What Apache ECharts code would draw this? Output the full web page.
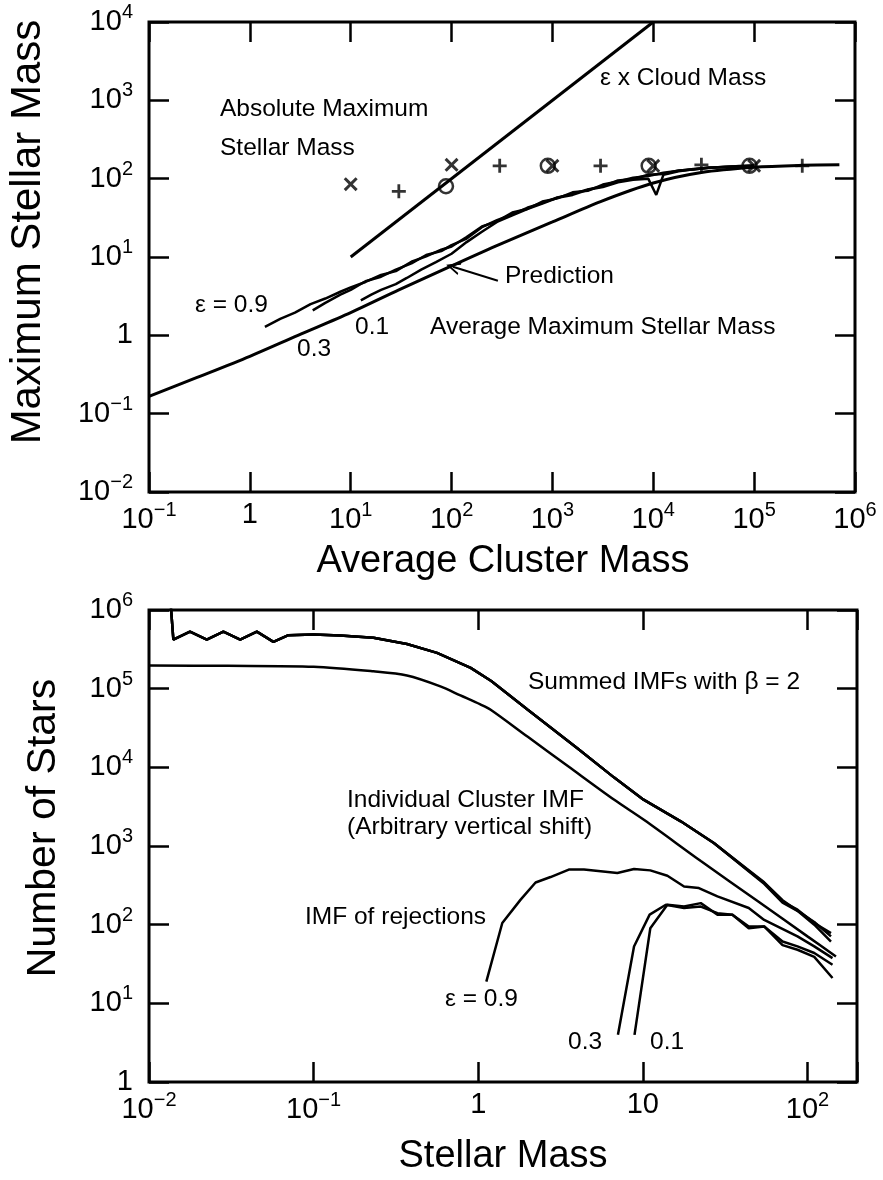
<!DOCTYPE html>
<html>
<head>
<meta charset="utf-8">
<title>Maximum Stellar Mass</title>
<script src="https://cdn.jsdelivr.net/npm/echarts@6/dist/echarts.min.js"></script>
<style>html,body{margin:0;padding:0;background:#fff}</style>
</head>
<body>
<div id="main" style="width:883px;height:1180px;"></div>
<script>
// ---- top panel: max stellar mass vs average cluster mass ----
var topXTicks = ['10^\u22121', '1', '10^1', '10^2', '10^3', '10^4', '10^5', '10^6']   // 1e-1 .. 1e6
var topYTicks = ['10^\u22122', '10^\u22121', '1', '10^1', '10^2', '10^3', '10^4']       // 1e-2 .. 1e4

var cloudX = [10, 10000]
var cloudY = [10, 10000]

var predX = [0.1, 0.3, 1, 3, 10, 30, 100, 300, 1000, 3000, 10000, 30000, 100000, 300000, 700000]
var predY = [0.166, 0.29, 0.54, 1.0, 1.95, 3.8, 7.7, 14.5, 28, 51, 88, 120, 140, 148, 150]

var sim09X = [1.41, 2.0, 2.8, 4.0, 5.6, 7.9, 10, 14, 20, 28, 40, 56, 79, 100, 141, 200, 282, 400, 562, 794, 1120, 1585, 2240, 3160, 4470, 6310, 8910, 12600, 17800, 25100, 35500, 50100, 70800, 100000]
var sim09Y = [1.28, 1.62, 1.95, 2.5, 2.95, 3.6, 4.1, 4.8, 5.9, 6.6, 8.7, 10.2, 12.4, 13.6, 18.0, 24.5, 28.5, 37, 41, 51, 56, 67, 70, 84, 92, 103, 108, 119, 126, 133, 138, 141, 143, 146]
var sim03X = [4.2, 5.6, 7.9, 10, 14, 20, 28, 40, 56, 79, 100, 141, 200, 282, 400, 562, 794, 1120, 1585, 2240, 3160, 4470, 6310, 8910, 12600, 17800, 25100, 35500, 50100, 70800, 100000]
var sim03Y = [2.08, 2.6, 3.3, 3.8, 4.9, 5.6, 6.9, 8.3, 10.6, 11.9, 14.2, 17.2, 24, 29.5, 35, 42.5, 49, 57.5, 64, 73, 80, 95, 99, 112, 115, 127, 131, 139, 140, 145, 146]
var sim01X = [12.6, 16, 20, 28, 36, 50, 70, 100, 141, 200, 282, 400, 562, 794, 1120, 1585, 2240, 3160, 4470, 6310, 8910, 10700, 12600, 17800, 25100, 35500, 50100, 70800, 100000]
var sim01Y = [2.79, 3.3, 3.8, 4.5, 5.4, 6.9, 8.6, 11, 15.5, 21, 28, 34, 41, 48, 57, 62, 72, 78, 90, 97, 100, 62, 112, 124, 132, 137, 142, 144, 147]

var crossX = [10, 100, 1000, 10000, 100000]
var crossY = [85, 150, 146, 146, 146]
var plusX = [30, 300, 3000, 30000, 300000]
var plusY = [69, 146, 146, 150, 146]
var circX = [88, 900, 9000, 90000]
var circY = [80, 146, 146, 146]

// ---- bottom panel: number of stars vs stellar mass ----
var botXTicks = ['10^\u22122', '10^\u22121', '1', '10', '10^2']          // 1e-2 .. 1e2
var botYTicks = ['1', '10^1', '10^2', '10^3', '10^4', '10^5', '10^6']     // 1 .. 1e6

var sumX = [0.0135, 0.01406, 0.01774, 0.02244, 0.0283, 0.0358, 0.0452, 0.057, 0.0703, 0.1, 0.145, 0.231, 0.369, 0.562, 0.9, 1.2, 2, 4, 6.7, 10.1, 17, 27, 43, 54.6, 70.6, 87, 110, 139]
var sum09Y = [1.3e6, 4.2e5, 5.3e5, 4.2e5, 5.3e5, 4.2e5, 5.3e5, 3.94e5, 4.78e5, 4.87e5, 4.74e5, 4.43e5, 3.7e5, 2.85e5, 1.84e5, 1.25e5, 5.4e4, 1.75e4, 7.4e3, 3.88e3, 2.06e3, 1.09e3, 502, 339, 197, 155, 105, 78]
var sum03Y = [1.3e6, 4.2e5, 5.3e5, 4.2e5, 5.3e5, 4.2e5, 5.3e5, 3.94e5, 4.78e5, 4.87e5, 4.74e5, 4.43e5, 3.7e5, 2.85e5, 1.84e5, 1.25e5, 5.4e4, 1.75e4, 7.4e3, 3.88e3, 2.06e3, 1.09e3, 510, 345, 205, 150, 108, 71]
var sum01Y = [1.3e6, 4.2e5, 5.3e5, 4.2e5, 5.3e5, 4.2e5, 5.3e5, 3.94e5, 4.78e5, 4.87e5, 4.74e5, 4.43e5, 3.7e5, 2.85e5, 1.84e5, 1.25e5, 5.4e4, 1.75e4, 7.4e3, 3.88e3, 2.06e3, 1.09e3, 495, 330, 190, 150, 100, 61]

var indX = [0.01, 0.03, 0.1, 0.231, 0.369, 0.589, 0.78, 1.03, 1.19, 2, 3.5, 6.67, 10.2, 22.5, 50, 100, 149]
var indY = [1.97e5, 1.95e5, 1.9e5, 1.66e5, 1.47e5, 1.07e5, 8.2e4, 6.3e4, 5.4e4, 2.44e4, 1.04e4, 3.9e3, 2.14e3, 645, 198, 71, 39.4]

var rej09X = [1.12, 1.4, 1.81, 2.23, 2.75, 3.55, 4.39, 7.0, 8.84, 11.1, 14.1, 17.8, 21.9, 28.4, 44, 54.6, 87, 110, 142]
var rej09Y = [18.9, 105, 208, 344, 403, 502, 502, 453, 509, 490, 419, 306, 292, 229, 163, 115, 71, 53, 37.6]
var rej03X = [7.06, 8.84, 11.0, 13.8, 17.8, 22.5, 28.4, 35, 44, 54.6, 70.6, 87, 110, 142]
var rej03Y = [3.98, 52.7, 134, 179, 163, 170, 140, 134, 90, 95, 55, 48, 39, 21]
var rej01X = [8.9, 11.1, 14.1, 17.8, 22.5, 28.4, 35, 44, 54.6, 70.6, 87, 110, 142]
var rej01Y = [3.98, 90, 179, 170, 188, 134, 134, 95, 95, 61, 53, 43.6, 31]

var FONT = '"Liberation Sans", Arial, Helvetica, sans-serif'
var chart = echarts.init(document.getElementById('main'))

var pts = function(xs, ys) {
    return xs.map(function(x, i) { return [x, ys[i]] })
}

// "10^3" -> rich text with superscript
var logLabel = function(labels, minExp) {
    return function(v) {
        var e = Math.log10(v)
        var r = Math.round(e)
        if (Math.abs(e - r) > 1e-6) return ''
        var s = labels[r - minExp]
        if (s == null) return ''
        var p = s.split('^')
        return p.length > 1 ? '{b|' + p[0] + '}{s|' + p[1] + '}' : '{b|' + s + '}'
    }
}
var rich = {
    b: {fontSize: 29, fontFamily: FONT, color: '#000'},
    s: {fontSize: 20, fontFamily: FONT, color: '#000', padding: [0, 0, 19, 0]}
}

var tick = {show: true, inside: true, length: 20, lineStyle: {color: '#000', width: 2.5}}

var makeAxis = function(grid, pos, min, max, labels, minExp, margin) {
    return {
        type: 'log', logBase: 10, gridIndex: grid, position: pos, min: min, max: max,
        axisLine: {show: false},
        axisTick: tick,
        minorTick: {show: false},
        splitLine: {show: false},
        axisLabel: labels ? {
            show: true, margin: margin, fontFamily: FONT, color: '#000',
            formatter: logLabel(labels, minExp), rich: rich
        } : {show: false}
    }
}

var line = function(name, xs, ys, xi, yi, w, smooth) {
    return {
        name: name, type: 'line', xAxisIndex: xi, yAxisIndex: yi,
        data: pts(xs, ys), showSymbol: false, symbol: 'none', smooth: smooth || false,
        lineStyle: {color: '#000', width: w || 2.5}, silent: true, animation: false
    }
}

var crossPath = 'path://M0,3 L3,0 L10,7 L17,0 L20,3 L13,10 L20,17 L17,20 L10,13 L3,20 L0,17 L7,10 Z'
var plusPath = 'path://M8,0 H12 V8 H20 V12 H12 V20 H8 V12 H0 V8 H8 Z'

var marker = function(name, xs, ys, sym, size, style) {
    return {
        name: name, type: 'scatter', xAxisIndex: 0, yAxisIndex: 0,
        data: pts(xs, ys), symbol: sym, symbolSize: size,
        itemStyle: style, silent: true, animation: false
    }
}

var text = function(str, x, y, size, rot) {
    return {
        type: 'text', x: x, y: y, rotation: rot || 0, silent: true,
        style: {
            text: str, font: size + 'px ' + FONT, fill: '#000',
            textAlign: rot ? 'center' : 'left', textVerticalAlign: 'middle'
        }
    }
}
var ctext = function(str, x, y, size) {
    var t = text(str, x, y, size)
    t.style.textAlign = 'center'
    return t
}

var prediction = line('Prediction', predX, predY, 0, 0, 3, 0.3)
prediction.markLine = {
    silent: true, animation: false,
    symbol: ['none', 'path://M0,10 L5,0 L10,10 L8.4,10 L5,3 L1.6,10 Z'],
    symbolSize: [13, 14],
    label: {show: false},
    lineStyle: {color: '#000', width: 2, type: 'solid'},
    data: [[{coord: [288, 4.97]}, {coord: [103, 7.5]}]]
}

var option = {
    backgroundColor: '#fff',
    animation: false,
    grid: [
        {left: 149, right: 28, top: 22, height: 470, show: true, borderColor: '#000', borderWidth: 3, backgroundColor: 'transparent', outerBoundsMode: 'none'},
        {left: 149, right: 26, top: 610, height: 472, show: true, borderColor: '#000', borderWidth: 3, backgroundColor: 'transparent', outerBoundsMode: 'none'}
    ],
    xAxis: [
        makeAxis(0, 'bottom', 0.1, 1e6, topXTicks, -1, 8),
        makeAxis(0, 'top', 0.1, 1e6, null),
        makeAxis(1, 'bottom', 0.01, 200, botXTicks, -2, 8),
        makeAxis(1, 'top', 0.01, 200, null)
    ],
    yAxis: [
        makeAxis(0, 'left', 0.01, 1e4, topYTicks, -2, 16),
        makeAxis(0, 'right', 0.01, 1e4, null),
        makeAxis(1, 'left', 1, 1e6, botYTicks, 0, 16),
        makeAxis(1, 'right', 1, 1e6, null)
    ],
    series: [
        line('Cloud mass', cloudX, cloudY, 0, 0, 3),
        prediction,
        line('eps 0.9', sim09X, sim09Y, 0, 0, 2.5),
        line('eps 0.3', sim03X, sim03Y, 0, 0, 2.5),
        line('eps 0.1', sim01X, sim01Y, 0, 0, 2.5),
        marker('x', crossX, crossY, crossPath, 14, {color: '#000'}),
        marker('+', plusX, plusY, plusPath, 14, {color: '#000'}),
        marker('o', circX, circY, 'circle', 14, {color: 'transparent', borderColor: '#000', borderWidth: 2.5}),

        line('Summed 0.9', sumX, sum09Y, 2, 2, 2.5),
        line('Summed 0.3', sumX, sum03Y, 2, 2, 2.5),
        line('Summed 0.1', sumX, sum01Y, 2, 2, 2.5),
        line('Individual IMF', indX, indY, 2, 2, 2.5, 0.3),
        line('Rejections 0.9', rej09X, rej09Y, 2, 2, 2.5),
        line('Rejections 0.3', rej03X, rej03Y, 2, 2, 2.5),
        line('Rejections 0.1', rej01X, rej01Y, 2, 2, 2.5)
    ],
    graphic: [
        text('Absolute Maximum', 220, 109, 24.5),
        text('Stellar Mass', 220, 148, 24.5),
        text('\u03b5 x Cloud Mass', 600, 78, 24.5),
        text('Prediction', 505, 276, 24.5),
        text('\u03b5 = 0.9', 195, 305, 24.5),
        text('0.1', 355, 327, 24.5),
        text('0.3', 297, 349, 24.5),
        text('Average Maximum Stellar Mass', 430, 327, 24.5),

        text('Summed IMFs with \u03b2 = 2', 528, 682, 24.5),
        text('Individual Cluster IMF', 347, 800, 24.5),
        text('(Arbitrary vertical shift)', 347, 827, 24.5),
        text('IMF of rejections', 305, 917, 24.5),
        text('\u03b5 = 0.9', 445, 999, 24.5),
        text('0.3', 568, 1042, 24.5),
        text('0.1', 650, 1042, 24.5),

        ctext('Average Cluster Mass', 503, 562, 38),
        ctext('Stellar Mass', 503, 1157, 38),
        text('Maximum Stellar Mass', 28, 232, 42, Math.PI / 2),
        text('Number of Stars', 44, 828, 41, Math.PI / 2)
    ]
}

chart.setOption(option)
</script>
</body>
</html>
